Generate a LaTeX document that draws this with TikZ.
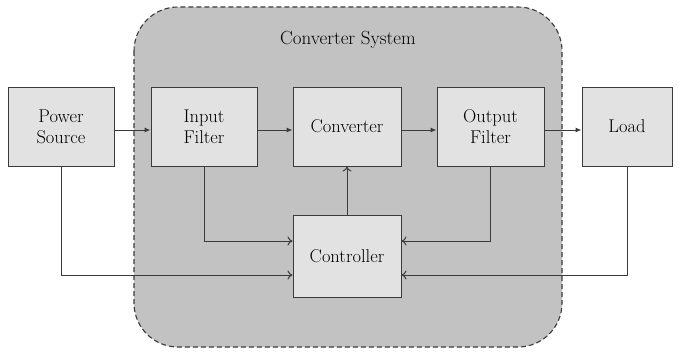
\documentclass[tikz,border=0pt]{standalone}
\usetikzlibrary{arrows.meta}
\definecolor{sysfill}{HTML}{C2C2C2}
\definecolor{boxfill}{HTML}{E2E2E2}
\definecolor{linec}{HTML}{3A3A3A}
\begin{document}
\begin{tikzpicture}[x=1pt,y=-1pt,
  blk/.style={draw=linec, line width=1pt, fill=boxfill, minimum width=106pt, minimum height=79pt,
    inner sep=0pt, align=center, font=\fontsize{18.5}{21}\selectfont, text=black},
  fwd/.style={draw=linec, line width=1pt, -{Latex[length=6pt,width=5pt]}},
  fb/.style={draw=linec, line width=1pt, -{To[length=5pt,width=9pt]}}]
\useasboundingbox (0,0) rectangle (679,351);
% converter system enclosure
\draw[draw=linec, line width=1.1pt, dash pattern=on 5pt off 3pt, fill=sysfill, rounded corners=44pt]
  (134,7) rectangle (562,347);
\node[font=\fontsize{19}{22}\selectfont, text=black] (title) at (348,40) {Converter System};
% blocks
\node[blk] (src) at (61,126.5) {Power\\Source};
\node[blk] (inf) at (204,126.5) {Input\\Filter};
\node[blk, minimum width=108pt] (conv) at (347,126.5) {Converter};
\node[blk, minimum width=107pt] (outf) at (490.5,126.5) {Output\\Filter};
\node[blk, minimum width=90pt] (load) at (627,126.5) {Load};
\node[blk, minimum width=108pt, minimum height=82pt] (ctrl) at (347,256) {Controller};
% power path
\draw[fwd] (src.east |- 0,130) -- (inf.west |- 0,130);
\draw[fwd] (inf.east |- 0,130) -- (conv.west |- 0,130);
\draw[fwd] (conv.east |- 0,130) -- (outf.west |- 0,130);
\draw[fwd] (outf.east |- 0,130) -- (load.west |- 0,130);
% measurement and control paths
\draw[fb] (inf.south) |- (ctrl.west |- 0,241);
\draw[fb] (src.south) |- (ctrl.west |- 0,275);
\draw[fb] (outf.south) |- (ctrl.east |- 0,241);
\draw[fb] (load.south) |- (ctrl.east |- 0,275);
\draw[fb] (ctrl.north) -- (conv.south);
\end{tikzpicture}
\end{document}
